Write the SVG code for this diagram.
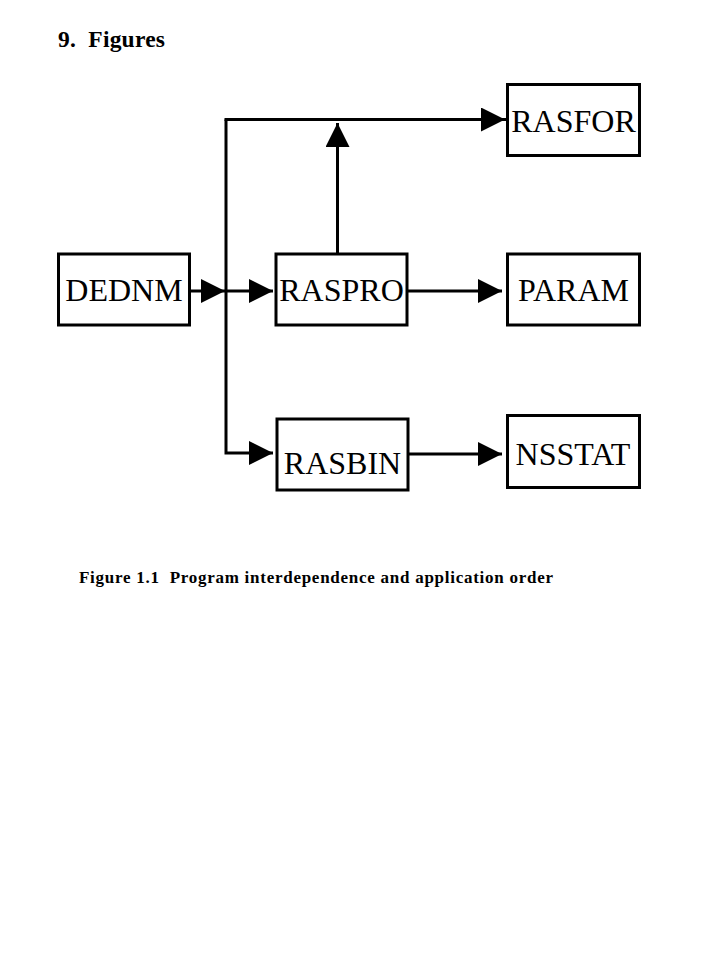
<svg xmlns="http://www.w3.org/2000/svg" width="719" height="959" viewBox="0 0 719 959">
<style>
.box{fill:#fff;stroke:#000;stroke-width:3}
.lbl{font-family:"Liberation Serif","Times New Roman",serif;font-size:32px;fill:#000}
.hd{font-family:"Liberation Serif","Times New Roman",serif;font-weight:bold;fill:#000;white-space:pre}
.ln{fill:none;stroke:#000;stroke-width:3}
</style>
<defs>
<marker id="ah" markerUnits="userSpaceOnUse" markerWidth="24" markerHeight="24" viewBox="0 0 24 24" refX="24" refY="12" orient="auto">
<path d="M0,0 L24,12 L0,24 Z" fill="#000"/>
</marker>
</defs>
<rect width="719" height="959" fill="#fff"/>
<text class="hd" x="58" y="47" font-size="23.5" xml:space="preserve" textLength="107" lengthAdjust="spacing">9.  Figures</text>
<g id="connectors">
<path class="ln" d="M189,291 H225" marker-end="url(#ah)"/>
<path class="ln" d="M226,291 H273" marker-end="url(#ah)"/>
<path class="ln" d="M226,119.5 V453 H273" marker-end="url(#ah)"/>
<path class="ln" d="M226,119.5 H505" stroke-linecap="square" marker-end="url(#ah)"/>
<path class="ln" d="M337.5,254 V123" marker-end="url(#ah)"/>
<path class="ln" d="M408,291 H502" marker-end="url(#ah)"/>
<path class="ln" d="M408,454 H502" marker-end="url(#ah)"/>
</g>
<g id="DEDNM"><rect class="box" x="58.5" y="254" width="131" height="71"/><text class="lbl" x="124" y="301" text-anchor="middle">DEDNM</text></g>
<g id="RASPRO"><rect class="box" x="276" y="254" width="131" height="71"/><text class="lbl" x="341.5" y="301" text-anchor="middle">RASPRO</text></g>
<g id="RASFOR"><rect class="box" x="507.5" y="84.5" width="132" height="71"/><text class="lbl" x="573.5" y="132" text-anchor="middle">RASFOR</text></g>
<g id="PARAM"><rect class="box" x="507.5" y="254" width="132" height="71"/><text class="lbl" x="573.5" y="301" text-anchor="middle">PARAM</text></g>
<g id="RASBIN"><rect class="box" x="277" y="419" width="131" height="71"/><text class="lbl" x="342.5" y="474" text-anchor="middle">RASBIN</text></g>
<g id="NSSTAT"><rect class="box" x="507.5" y="415.5" width="132" height="72"/><text class="lbl" x="573" y="465" text-anchor="middle">NSSTAT</text></g>
<text class="hd" x="79" y="583" font-size="17" xml:space="preserve" textLength="474" lengthAdjust="spacing">Figure 1.1  Program interdependence and application order</text>
</svg>
